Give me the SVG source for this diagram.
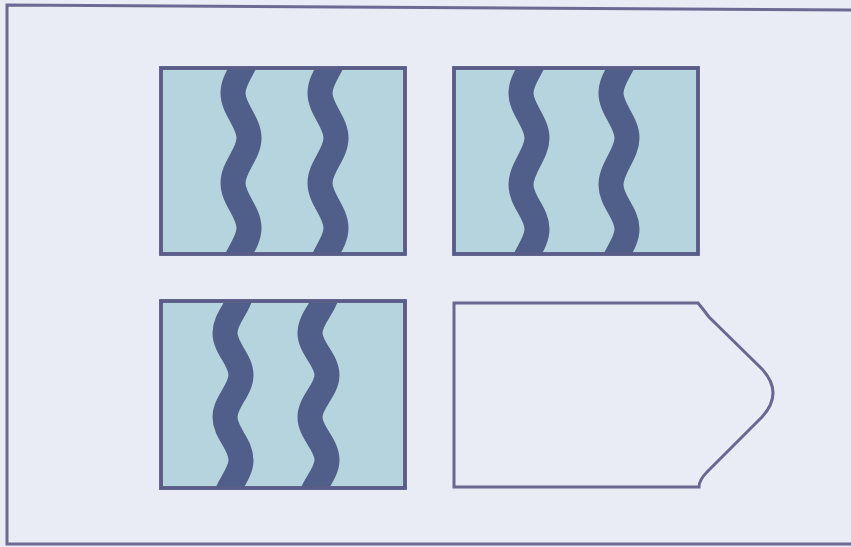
<svg xmlns="http://www.w3.org/2000/svg" width="851" height="547" viewBox="0 0 851 547">
<style>
.bg{fill:#e9ecf4}
.frame{fill:none;stroke:#6c6a92;stroke-width:3}
.box{fill:#b6d4dd;stroke:#5a5d88;stroke-width:3.5}
.edge{fill:none;stroke:#5a5d88;stroke-width:3.5}
.wave{fill:none;stroke:#4f5f89;stroke-width:25;stroke-linecap:butt}
.sign{fill:#e9ecf4;stroke:#6a6790;stroke-width:3}
</style>
<defs>
<clipPath id="cTL"><rect x="161" y="68" width="244" height="186"/></clipPath>
<clipPath id="cTR"><rect x="454" y="68" width="244" height="186"/></clipPath>
<clipPath id="cBL"><rect x="161" y="301" width="244" height="187"/></clipPath>
</defs>
<rect class="bg" x="0" y="0" width="851" height="547"/>
<path class="frame" d="M853 10 L7 5 L7 544 L853 544"/>
<g id="box-top-left">
<rect class="box" x="161" y="68" width="244" height="186"/>
<g clip-path="url(#cTL)">
<path class="wave" d="M249 48 C249 64 233 77 233 93 C233 109 249 122 249 138 C249 154 233 167 233 183 C233 199 249 212 249 228 C249 244 233 257 233 273"/>
<path class="wave" d="M336 48 C336 64 320 77 320 93 C320 109 336 122 336 138 C336 154 320 167 320 183 C320 199 336 212 336 228 C336 244 320 257 320 273"/>
</g>
<rect class="edge" x="161" y="68" width="244" height="186"/>
</g>
<g id="box-top-right">
<rect class="box" x="454" y="68" width="244" height="186"/>
<g clip-path="url(#cTR)">
<path class="wave" d="M537 48 C537 64 521 77 521 93 C521 109 537 122 537 138 C537 154 521 168 521 185 C521 201 537 213 537 229 C537 245 521 258 521 274"/>
<path class="wave" d="M627 48 C627 64 611 77 611 93 C611 109 627 122 627 138 C627 154 611 168 611 185 C611 201 627 213 627 229 C627 245 611 258 611 274"/>
</g>
<rect class="edge" x="454" y="68" width="244" height="186"/>
</g>
<g id="box-bottom-left">
<rect class="box" x="161" y="301" width="244" height="187"/>
<g clip-path="url(#cBL)">
<path class="wave" d="M241 290 C241 306 225 317 225 333 C225 348 241 360 241 375 C241 390 225 402 225 417 C225 433 241 444 241 460 C241 475 225 488 225 503"/>
<path class="wave" d="M327 290 C327 306 310 317 310 333 C310 348 327 360 327 375 C327 390 310 402 310 417 C310 433 327 444 327 460 C327 475 310 488 310 503"/>
</g>
<rect class="edge" x="161" y="301" width="244" height="187"/>
</g>
<g id="sign-bottom-right">
<path class="sign" d="M454 303 L698 303 Q703 309 709 317 L762 369 Q784 393 762 417 L707 472 Q699 480 699 487 L454 487 Z"/>
</g>
</svg>
